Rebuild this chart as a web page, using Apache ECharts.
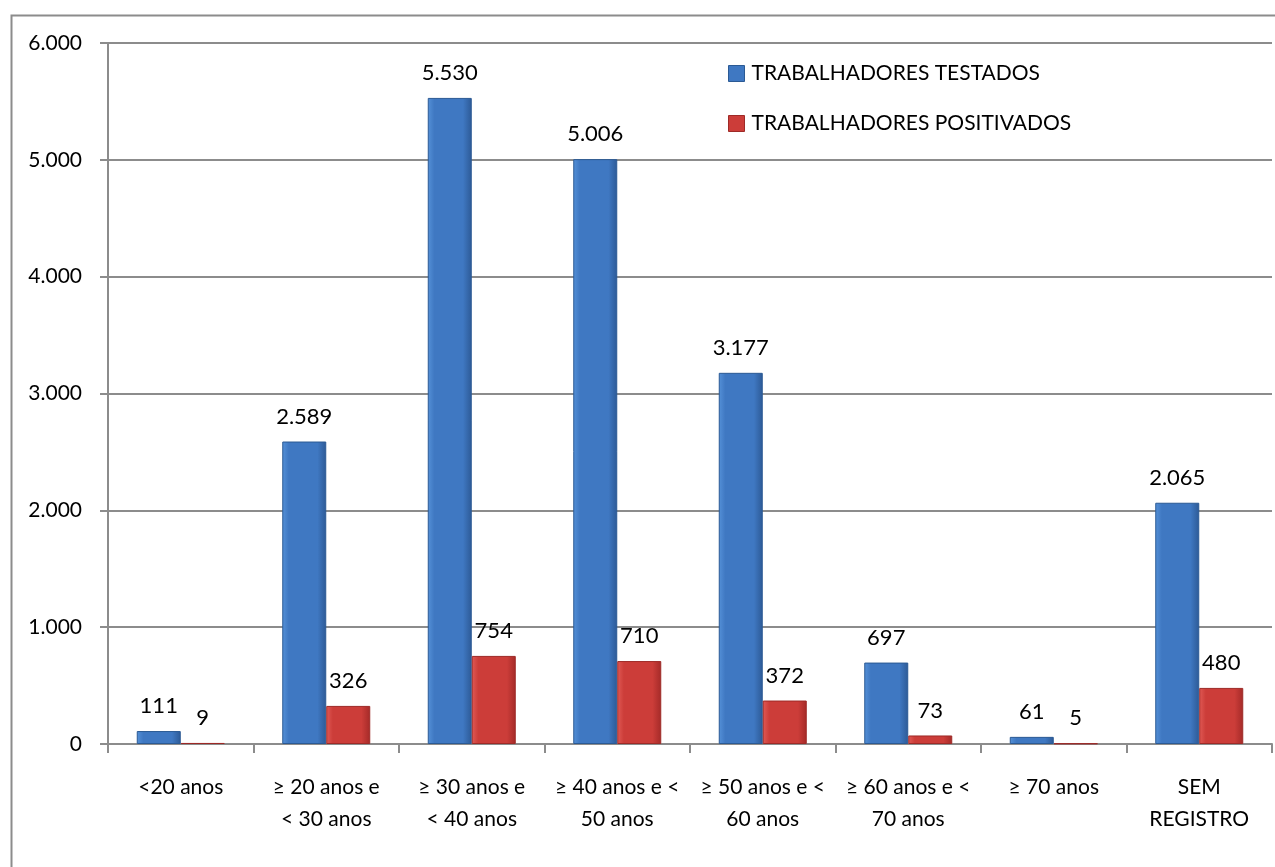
<!DOCTYPE html>
<html><head><meta charset="utf-8">
<script src="https://cdn.jsdelivr.net/npm/echarts@6/dist/echarts.min.js"></script>
<style>html,body{margin:0;padding:0;background:#fff}#c{width:1275px;height:867px}</style>
</head><body><div id="c"></div>
<script>
const categories = ['<20 anos','≥ 20 anos e\n< 30 anos','≥ 30 anos e\n< 40 anos','≥ 40 anos e <\n50 anos','≥ 50 anos e <\n60 anos','≥ 60 anos e <\n70 anos','≥ 70 anos','SEM\nREGISTRO'];
const testados = [111,2589,5530,5006,3177,697,61,2065];
const positivados = [9,326,754,710,372,73,5,480];
const seriesNames = ['TRABALHADORES TESTADOS','TRABALHADORES POSITIVADOS'];
const FONT = 'Lato';
function fmt(v){return String(Math.round(v)).replace(/\B(?=(\d{3})+(?!\d))/g,'.');}
function grad(c1,c2,c3){return {type:'linear',x:0,y:0,x2:1,y2:0,colorStops:[{offset:0,color:c1},{offset:0.15,color:c2},{offset:0.8,color:c2},{offset:1,color:c3}]};}
const blue = grad('#5591d8','#3f78c2','#2d5a96');
const red = grad('#e05a55','#cc3d39','#a42a28');
const chart = echarts.init(document.getElementById('c'));
chart.setOption({
  animation:false,
  textStyle:{fontFamily:FONT},
  graphic:[{type:'rect',left:9,top:13,shape:{width:1300,height:900},style:{fill:'none',stroke:'#8c8c8c',lineWidth:2},silent:true}],
  legend:{left:728,top:63,orient:'vertical',itemGap:29,itemWidth:16,itemHeight:16,padding:0,
    textStyle:{fontFamily:FONT,fontSize:21,color:'#000',padding:[0,0,0,2]},
    data:[{name:seriesNames[0],icon:'rect',itemStyle:{color:'#3f78c2',borderColor:'#2b5a94',borderWidth:1}},{name:seriesNames[1],icon:'rect',itemStyle:{color:'#cc3d39',borderColor:'#9e2a27',borderWidth:1}}]},
  grid:{left:108,right:3,top:43,bottom:123,containLabel:false},
  xAxis:{type:'category',data:categories,
    axisLine:{lineStyle:{color:'#8c8c8c',width:2}},
    axisTick:{show:true,length:9,lineStyle:{color:'#8c8c8c',width:2}},
    axisLabel:{fontFamily:FONT,fontSize:21,color:'#000',margin:27,lineHeight:32,interval:0}},
  yAxis:{type:'value',min:0,max:6000,interval:1000,
    axisLine:{show:true,lineStyle:{color:'#8c8c8c',width:2}},
    axisTick:{show:true,length:8,lineStyle:{color:'#8c8c8c',width:2}},
    splitLine:{show:true,lineStyle:{color:'#8c8c8c',width:2}},
    axisLabel:{fontFamily:FONT,fontSize:21,color:'#000',margin:26,formatter:fmt}},
  series:[
    {name:seriesNames[0],type:'bar',data:testados,barWidth:44,barGap:'0%',
     itemStyle:{color:blue,borderColor:'#2b5a94',borderWidth:1},
     label:{show:true,position:'top',distance:14,fontFamily:FONT,fontSize:22,color:'#000',formatter:p=>fmt(p.value)}},
    {name:seriesNames[1],type:'bar',data:positivados,barWidth:44,barGap:'0%',
     itemStyle:{color:red,borderColor:'#9e2a27',borderWidth:1},
     label:{show:true,position:'top',distance:14,fontFamily:FONT,fontSize:22,color:'#000',formatter:p=>fmt(p.value)}}
  ]
});
</script></body></html>
